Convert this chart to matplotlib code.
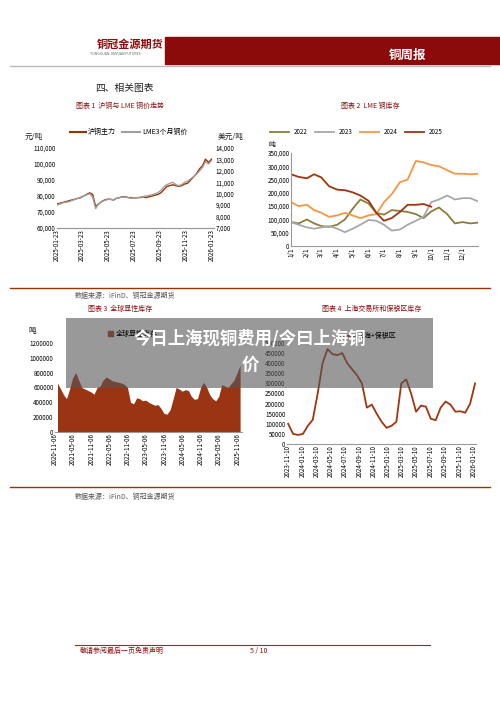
import matplotlib
matplotlib.use("Agg")
import matplotlib.pyplot as plt
import matplotlib.dates as mdates
import pandas as pd
from matplotlib.patches import Rectangle
from matplotlib.ticker import FuncFormatter

plt.rcParams['font.family'] = ['Noto Sans CJK SC', 'DejaVu Sans']

W, H = 500, 707
fig = plt.figure(figsize=(5, 7.07), dpi=100)
fig.patch.set_facecolor('white')
RED = '#993300'
DARK = '#8b0a0a'

def ax_at(x0, y0, x1, y1):
    return fig.add_axes([x0 / W, 1 - y1 / H, (x1 - x0) / W, (y1 - y0) / H])

def ftext(x, y, s, **kw):
    fig.text(x / W, 1 - y / H, s, **kw)

# ---------------- data ----------------
c1_shfe = [75000, 75500, 76000, 76500, 77000, 77500, 78000, 78500, 79000, 80000, 81000, 82000, 81000, 73500,
           75000, 76500, 77500, 78000, 78000, 77500, 78500, 79000, 79500, 79500, 79000, 79000, 78500, 79000,
           79000, 79500, 79000, 79500, 80000, 80500, 81000, 82000, 84000, 86000, 86500, 87000, 86500, 86000,
           86500, 87500, 88000, 90000, 92000, 94000, 97000, 99000, 103000, 101000, 103000]
c1_lme = [9000, 9100, 9200, 9250, 9300, 9400, 9500, 9600, 9700, 9800, 9900, 10000, 9700, 8700,
          9100, 9300, 9400, 9500, 9500, 9450, 9600, 9650, 9700, 9700, 9650, 9600, 9600, 9650,
          9700, 9750, 9800, 9850, 9900, 10000, 10100, 10300, 10600, 10800, 10900, 11000, 10800, 10700,
          10800, 11000, 11100, 11300, 11500, 11700, 12000, 12300, 12800, 12600, 12900]
c1_dates = pd.date_range('2025-01-23', periods=len(c1_shfe), freq='7D')

c2_x = [0, 15, 31, 45, 59, 74, 90, 105, 120, 135, 151, 166, 181, 196, 212, 227, 243, 258, 273, 288,
        304, 319, 334, 349, 364]
c2_2022 = [90000, 85000, 100000, 85000, 75000, 72000, 80000, 100000, 140000, 175000, 160000, 125000,
           118000, 135000, 132000, 128000, 120000, 105000, 130000, 145000, 120000, 85000, 90000, 85000, 88000]
c2_2023 = [90000, 80000, 70000, 65000, 70000, 75000, 65000, 52000, 65000, 80000, 98000, 95000,
           80000, 58000, 62000, 80000, 95000, 110000, 165000, 175000, 190000, 175000, 180000, 180000, 168000]
c2_2024 = [165000, 150000, 155000, 135000, 125000, 110000, 115000, 125000, 115000, 105000, 115000, 120000,
           165000, 195000, 240000, 250000, 320000, 315000, 305000, 300000, 285000, 272000, 272000, 270000, 272000]
c2_2025 = [270000, 260000, 255000, 270000, 258000, 225000, 212000, 210000, 202000, 190000, 170000, 125000,
           95000, 105000, 128000, 155000, 155000, 158000, 148000]

c3_vals = [660000, 580000, 500000, 450000, 580000, 730000, 800000, 700000, 600000, 580000, 560000, 540000,
           510000, 600000, 620000, 700000, 740000, 720000, 690000, 680000, 670000, 660000, 640000, 600000,
           400000, 380000, 460000, 450000, 420000, 430000, 400000, 380000, 360000, 370000, 320000, 250000,
           240000, 300000, 450000, 600000, 580000, 550000, 570000, 560000, 480000, 440000, 450000, 600000,
           670000, 600000, 500000, 450000, 420000, 480000, 640000, 620000, 600000, 650000, 700000, 800000,
           900000]
c3_dates = pd.date_range('2020-11-06', periods=len(c3_vals), freq='MS')

c4_vals = [100000, 50000, 45000, 50000, 90000, 120000, 250000, 400000, 470000, 445000, 440000, 450000,
           400000, 370000, 340000, 300000, 180000, 195000, 150000, 110000, 80000, 90000, 110000, 300000,
           320000, 250000, 160000, 190000, 185000, 125000, 118000, 180000, 210000, 195000, 160000, 162000,
           155000, 200000, 300000]
c4_dates = pd.date_range('2023-11-10', periods=len(c4_vals), freq='21D')

# ---------------- page decoration ----------------
deco = fig.add_axes([0, 0, 1, 1]); deco.set_xlim(0, W); deco.set_ylim(H, 0); deco.axis('off')
deco.add_patch(Rectangle((165, 37), 335, 27, color=DARK))
deco.plot([10, 490], [66, 66], color='#bbbbbb', lw=1)
deco.plot([10, 490], [288, 288], color=RED, lw=1)
deco.plot([10, 490], [487, 487], color=RED, lw=1)
deco.plot([75, 430], [645, 645], color=RED, lw=0.8)
ftext(97, 44, '铜冠金源期货', fontsize=8, color=DARK, weight='bold', va='center')
ftext(90, 54, 'TONGGUAN JINYUAN FUTURES', fontsize=2.5, color='#666', va='center')
ftext(408, 55, '铜周报', fontsize=9, color='white', weight='bold', ha='center', va='center')
ftext(95, 88, '四、相关图表', fontsize=7, color='#222', va='center')
ftext(120, 106, '图表 1  沪铜与 LME 铜价走势', fontsize=5, color=DARK, ha='center', va='center')
ftext(370, 106, '图表 2  LME 铜库存', fontsize=5, color=DARK, ha='center', va='center')
ftext(75, 296, '数据来源：iFinD、铜冠金源期货', fontsize=5, color='#555', va='center')
ftext(120, 309, '图表 3  全球显性库存', fontsize=5, color=DARK, ha='center', va='center')
ftext(372, 309, '图表 4  上海交易所和保税区库存', fontsize=5, color=DARK, ha='center', va='center')
ftext(75, 497, '数据来源：iFinD、铜冠金源期货', fontsize=5, color='#555', va='center')
ftext(80, 651, '敬请参阅最后一页免责声明', fontsize=5, color=DARK, style='italic', va='center')
ftext(250, 651, '5 / 10', fontsize=5, color=DARK, va='center')

tick_fs = 4.5
thou = FuncFormatter(lambda v, p: f'{int(v):,}')
plain = FuncFormatter(lambda v, p: f'{int(v)}')

# ---------------- chart 1 ----------------
a1 = ax_at(57, 148, 214, 228)
a1.plot(c1_dates, c1_shfe, color=RED, lw=1)
a1.set_ylim(60000, 110000)
a1.set_yticks(range(60000, 110001, 10000))
a1.yaxis.set_major_formatter(thou)
a1b = a1.twinx()
a1b.plot(c1_dates, c1_lme, color='#a0a0a0', lw=1)
a1b.set_ylim(7000, 14000)
a1b.set_yticks(range(7000, 14001, 1000))
a1b.yaxis.set_major_formatter(thou)
a1.set_xlim(pd.Timestamp('2025-01-23'), pd.Timestamp('2026-01-28'))
a1.set_xticks(pd.to_datetime(['2025-01-23', '2025-03-23', '2025-05-23', '2025-07-23', '2025-09-23', '2025-11-23', '2026-01-23']))
a1.xaxis.set_major_formatter(mdates.DateFormatter('%Y-%m-%d'))
for ax in (a1, a1b):
    ax.tick_params(labelsize=tick_fs, length=0, pad=1)
    for s in ax.spines.values(): s.set_visible(False)
    ax.spines['bottom'].set_visible(True); ax.spines['bottom'].set_color('#999')
plt.setp(a1.get_xticklabels(), rotation=90)
ftext(25, 137, '元/吨', fontsize=5.5, color='#222', va='center')
ftext(218, 137, '美元/吨', fontsize=5.5, color='#222', va='center')
deco.plot([70, 86], [132, 132], color=RED, lw=1.5)
ftext(88, 132, '沪铜主力', fontsize=5, va='center')
deco.plot([122, 140], [132, 132], color='#a0a0a0', lw=1.5)
ftext(142, 132, 'LME3个月铜价', fontsize=5, va='center')

# ---------------- chart 2 ----------------
a2 = ax_at(291, 153, 478, 246)
for vals, col, lab in [(c2_2022, '#8b7d3a', '2022'), (c2_2023, '#a8a8a8', '2023'),
                       (c2_2024, '#f79646', '2024'), (c2_2025, '#a0350f', '2025')]:
    a2.plot(c2_x[:len(vals)], vals, color=col, lw=1.3, label=lab)
a2.set_ylim(0, 350000)
a2.set_yticks(range(0, 350001, 50000))
a2.yaxis.set_major_formatter(thou)
month_starts = [0, 31, 59, 90, 120, 151, 181, 212, 243, 273, 304, 334]
a2.set_xticks(month_starts)
a2.set_xticklabels([f'{m}/1' for m in range(1, 13)], rotation=90)
a2.set_xlim(0, 364)
a2.tick_params(labelsize=tick_fs, length=0, pad=1)
for s in a2.spines.values(): s.set_visible(False)
a2.spines['bottom'].set_visible(True); a2.spines['bottom'].set_color('#999')
a2.spines['left'].set_visible(True); a2.spines['left'].set_color('#999')
a2.legend(loc='lower center', bbox_to_anchor=(0.35, 1.12), ncol=4, fontsize=4.5, frameon=False,
          handlelength=3, columnspacing=1.2)
ftext(268, 145, '吨', fontsize=5, va='center')

# ---------------- chart 3 ----------------
a3 = ax_at(55, 343, 242, 432)
a3.fill_between(c3_dates, c3_vals, color='#9a3412', lw=0)
a3.set_ylim(0, 1200000)
a3.set_yticks(range(0, 1200001, 200000))
a3.yaxis.set_major_formatter(plain)
a3.set_xlim(pd.Timestamp('2020-11-06'), pd.Timestamp('2025-12-20'))
a3.set_xticks(pd.to_datetime([f'{y}-{m:02d}-06' for y in range(2020, 2026) for m in (5, 11)
                              if not (y == 2020 and m == 5)]))
a3.xaxis.set_major_formatter(mdates.DateFormatter('%Y-%m-%d'))
plt.setp(a3.get_xticklabels(), rotation=90)
a3.tick_params(labelsize=tick_fs, length=0, pad=1)
for s in a3.spines.values(): s.set_visible(False)
a3.spines['bottom'].set_visible(True); a3.spines['bottom'].set_color('#999')
ftext(28, 331, '吨', fontsize=5.5, va='center')
deco.add_patch(Rectangle((108, 331), 5, 5, color='#9a3412'))
ftext(116, 334, '全球显性库存', fontsize=5, va='center')

# ---------------- chart 4 ----------------
a4 = ax_at(287, 343, 476, 444)
a4.plot(c4_dates, c4_vals, color='#a0350f', lw=1.3)
a4.set_ylim(0, 500000)
a4.set_yticks(range(0, 500001, 50000))
a4.yaxis.set_major_formatter(plain)
a4.set_xlim(pd.Timestamp('2023-11-05'), pd.Timestamp('2026-01-20'))
a4.set_xticks(pd.date_range('2023-11-01', '2026-01-11', freq='2MS') + pd.Timedelta(days=9))
a4.xaxis.set_major_formatter(mdates.DateFormatter('%Y-%m-%d'))
plt.setp(a4.get_xticklabels(), rotation=90)
a4.tick_params(labelsize=tick_fs, length=0, pad=1)
for s in a4.spines.values(): s.set_visible(False)
a4.spines['bottom'].set_visible(True); a4.spines['bottom'].set_color('#999')
deco.plot([340, 356], [336, 336], color='#a0350f', lw=1.3)
ftext(358, 336, '上海+保税区', fontsize=5, va='center')

# ---------------- overlay banner ----------------
ov = fig.add_axes([0, 0, 1, 1]); ov.set_xlim(0, W); ov.set_ylim(H, 0); ov.axis('off')
ov.add_patch(Rectangle((66, 318), 367, 70, color='#555555', alpha=0.6, lw=0))
ftext(250, 339, '今日上海现铜费用/今曰上海铜', fontsize=12.5, color='white', weight='bold', ha='center', va='center')
ftext(250, 365, '价', fontsize=12.5, color='white', weight='bold', ha='center', va='center')

fig.savefig('out.png', dpi=100)
